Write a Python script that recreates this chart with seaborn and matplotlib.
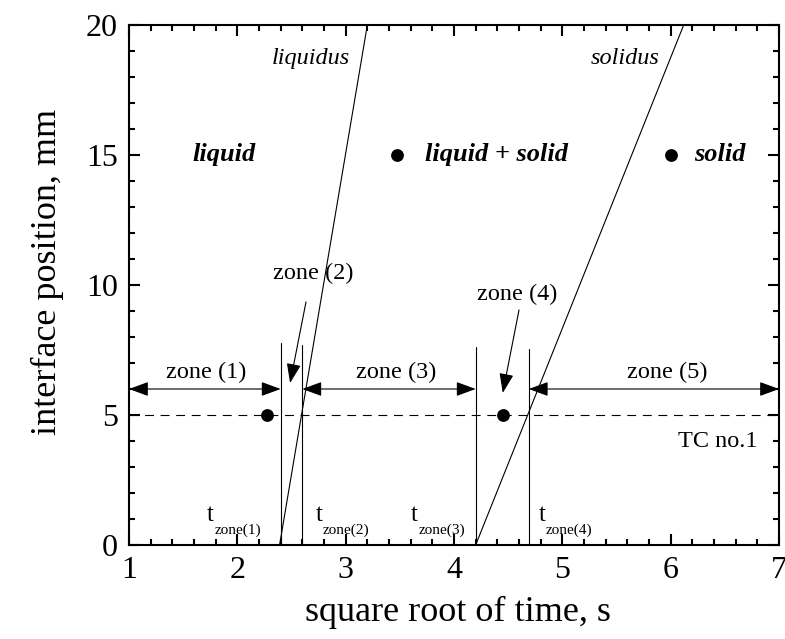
import matplotlib
matplotlib.use("Agg")
import matplotlib.pyplot as plt
import seaborn as sns
import pandas as pd
from matplotlib.ticker import MultipleLocator

# --- data -------------------------------------------------------------
liquidus_x = [2.39, 3.20]
liquidus_y = [0.0, 20.0]
solidus_x = [4.20, 6.12]
solidus_y = [0.0, 20.0]

# times (sqrt s) at which TC no.1 enters each zone boundary
boundary_x = [2.40, 2.60, 4.20, 4.69]
boundary_top = [7.75, 7.70, 7.60, 7.55]

tc_position = 5.0
zone_arrow_y = 6.0

dot_x = [2.27, 4.45, 3.47, 6.00]
dot_y = [5.0, 5.0, 15.0, 15.0]

zone_spans = [(1.0, 2.40, "zone (1)", 1.71),
              (2.60, 4.20, "zone (3)", 3.47),
              (4.69, 7.00, "zone (5)", 5.97)]

t_labels = ["zone(1)", "zone(2)", "zone(3)", "zone(4)"]
t_label_x = [1.72, 2.72, 3.60, 4.78]

x_ticks = [1, 2, 3, 4, 5, 6, 7]
y_ticks = [0, 5, 10, 15, 20]

# --- style ------------------------------------------------------------
sns.set_theme(style="ticks")
plt.rcParams["font.family"] = ["Liberation Serif", "DejaVu Serif"]
plt.rcParams["axes.linewidth"] = 1.5
for key in ("text.color", "axes.labelcolor", "xtick.color", "ytick.color",
            "axes.edgecolor", "xtick.labelcolor", "ytick.labelcolor"):
    plt.rcParams[key] = "black"

fig = plt.figure(figsize=(7.85, 6.39), dpi=100)
ax = fig.add_axes([0.1643, 0.1471, 0.8281, 0.8138])

# phase boundaries
liq = pd.DataFrame({"t": liquidus_x, "s": liquidus_y})
sol = pd.DataFrame({"t": solidus_x, "s": solidus_y})
sns.lineplot(data=liq, x="t", y="s", ax=ax, color="black", lw=0.8, sort=False)
sns.lineplot(data=sol, x="t", y="s", ax=ax, color="black", lw=0.8, sort=False)

# thermocouple position
ax.axhline(tc_position, color="black", lw=0.8, ls=(0, (8, 6)))

# zone boundary markers
for bx, top in zip(boundary_x, boundary_top):
    ax.plot([bx, bx], [0, top], color="black", lw=0.8)

# state points
dots = pd.DataFrame({"t": dot_x, "s": dot_y})
sns.scatterplot(data=dots, x="t", y="s", ax=ax, color="black", s=85,
                edgecolor="black", linewidth=0, zorder=5)

# zone spans with double-headed arrows
arrow2 = dict(arrowstyle="<|-|>,head_length=0.6,head_width=0.22",
              color="black", lw=0.8, mutation_scale=20,
              shrinkA=0, shrinkB=0)
for x0, x1, label, lx in zone_spans:
    ax.annotate("", xy=(x1, zone_arrow_y), xytext=(x0, zone_arrow_y),
                arrowprops=arrow2, annotation_clip=False)
    ax.text(lx, 6.65, label, ha="center", va="center", fontsize=17.5)

# narrow zones pointed out with single arrows
arrow1 = dict(arrowstyle="-|>,head_length=0.6,head_width=0.22",
              color="black", lw=0.8, mutation_scale=20,
              shrinkA=0, shrinkB=0)
ax.annotate("", xy=(2.487, 6.23), xytext=(2.634, 9.35), arrowprops=arrow1)
ax.text(2.70, 10.45, "zone (2)", ha="center", va="center", fontsize=17.5)
ax.annotate("", xy=(4.45, 5.85), xytext=(4.60, 9.04), arrowprops=arrow1)
ax.text(4.58, 9.65, "zone (4)", ha="center", va="center", fontsize=17.5)

ax.text(6.80, 3.77, "TC no.1", ha="right", va="baseline", fontsize=17.5)

# region names
ax.text(1.88, 15.0, "liquid", ha="center", va="center", fontsize=19,
        fontweight="bold", fontstyle="italic")
ax.text(3.73, 15.0, "liquid + solid", ha="left", va="center", fontsize=19,
        fontweight="bold", fontstyle="italic")
ax.text(6.22, 15.0, "solid", ha="left", va="center", fontsize=19,
        fontweight="bold", fontstyle="italic")

ax.text(3.04, 18.5, "liquidus", ha="right", va="baseline", fontsize=17.5,
        fontstyle="italic")
ax.text(5.90, 18.5, "solidus", ha="right", va="baseline", fontsize=17.5,
        fontstyle="italic")

# zone times
for lbl, tx in zip(t_labels, t_label_x):
    ax.text(tx, 0.92, "t", ha="left", va="baseline", fontsize=18)
    ax.text(tx + 0.07, 0.42, lbl, ha="left", va="baseline", fontsize=11)

# axes
ax.set_xlim(1, 7)
ax.set_ylim(0, 20)
ax.set_xticks(x_ticks)
ax.set_yticks(y_ticks)
ax.set_xticklabels([str(v) for v in x_ticks])
ax.set_yticklabels([str(v) for v in y_ticks])
ax.xaxis.set_minor_locator(MultipleLocator(0.2))
ax.yaxis.set_minor_locator(MultipleLocator(1))
ax.tick_params(which="both", direction="in", top=True, right=True,
               width=1.5, color="black", labelcolor="black")
ax.tick_params(which="major", length=8, labelsize=23, pad=8)
ax.tick_params(which="minor", length=4)
for sp in ax.spines.values():
    sp.set_visible(True)
    sp.set_color("black")

ax.set_xlabel("square root of time, s", fontsize=26, color="black")
ax.set_ylabel("interface position, mm", fontsize=26, color="black")
ax.xaxis.label.set_va("center")
ax.yaxis.label.set_va("center")
ax.xaxis.set_label_coords(0.506, -0.129)
ax.yaxis.set_label_coords(-0.125, 0.525)

fig.savefig("out.png", dpi=100)
